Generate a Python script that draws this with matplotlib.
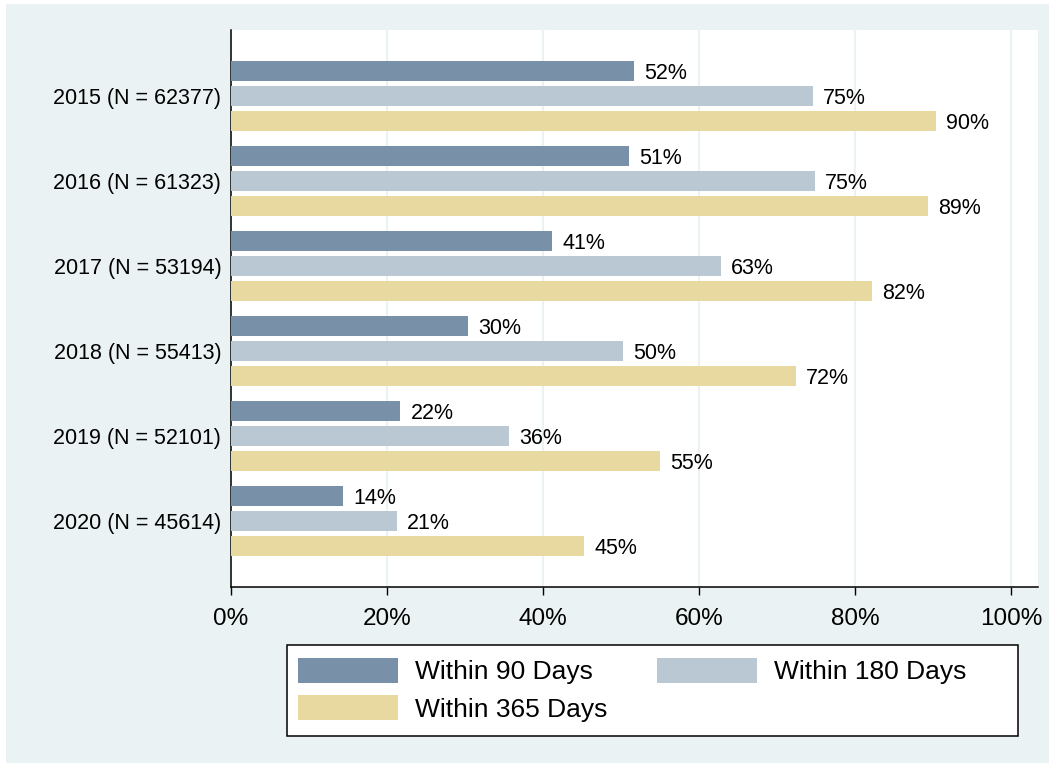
import numpy as np
import matplotlib.pyplot as plt
from matplotlib.patches import Rectangle

plt.rcParams['font.family'] = ['Liberation Sans', 'DejaVu Sans']

# data
years = ['2015', '2016', '2017', '2018', '2019', '2020']
n_obs = [62377, 61323, 53194, 55413, 52101, 45614]
within_90 = [51.7, 51.0, 41.2, 30.4, 21.7, 14.4]
within_180 = [74.6, 74.9, 62.8, 50.3, 35.6, 21.3]
within_365 = [90.4, 89.3, 82.2, 72.4, 55.0, 45.3]
series_names = ['Within 90 Days', 'Within 180 Days', 'Within 365 Days']
colors = ['#7890A8', '#BAC8D3', '#E8D9A1']
bg = '#EAF2F3'

W, H = 1054, 767
fig = plt.figure(figsize=(W / 100, H / 100), dpi=100, facecolor='white')
fig.patches.append(Rectangle((6 / W, 4 / H), 1043 / W, 759 / H,
                             transform=fig.transFigure, facecolor=bg,
                             edgecolor='none', zorder=-10))
ax = fig.add_axes([0.2192, 0.2347, 0.9848 - 0.2192, 0.9609 - 0.2347])
ax.set_facecolor('white')

y = np.arange(len(years))
pitch = 0.294
h = 0.235
bars = []
for k, vals in enumerate([within_90, within_180, within_365]):
    pos = y + (k - 1) * pitch
    b = ax.barh(pos, vals, height=h, color=colors[k], label=series_names[k], zorder=3)
    bars.append(b)
    for p, v in zip(pos, vals):
        ax.text(v + 1.3, p + 0.025, '%d%%' % round(v), va='center', ha='left',
                fontsize=15.5, zorder=4)

ax.set_ylim(len(years) - 1 + 0.776, -0.776)
ax.set_xlim(0, 103.46)
ax.set_yticks(y)
ax.set_yticklabels(['%s (N = %d)' % (yr, n) for yr, n in zip(years, n_obs)], fontsize=15.5)
ax.set_xticks([0, 20, 40, 60, 80, 100])
ax.set_xticklabels(['0%', '20%', '40%', '60%', '80%', '100%'], fontsize=17.5)
ax.tick_params(axis='y', length=0, pad=7)
ax.tick_params(axis='x', length=6, width=1, pad=9, direction='out')
ax.grid(axis='x', color=bg, linewidth=1.5, zorder=0)
for s in ['top', 'right']:
    ax.spines[s].set_visible(False)
for s in ['left', 'bottom']:
    ax.spines[s].set_linewidth(1.1)
    ax.spines[s].set_color('black')

# legend box drawn separately (Stata leaves extra room on the right)
fig.patches.append(Rectangle((287 / W, 1 - 736 / H), 731 / W, 91 / H,
                             transform=fig.transFigure, facecolor='white',
                             edgecolor='black', linewidth=1.1, zorder=1))
leg = fig.legend([bars[0], bars[2], bars[1]],
                 [series_names[0], series_names[2], series_names[1]],
                 ncol=2, loc='upper left', bbox_to_anchor=(298 / W, 1 - 658 / H),
                 fontsize=19, frameon=False, handlelength=3.8, handleheight=1.06,
                 handletextpad=0.65, columnspacing=1.85, labelspacing=0.42,
                 borderpad=0, borderaxespad=0)
leg.set_zorder(2)

fig.savefig('out.png', dpi=100, facecolor=fig.get_facecolor())
